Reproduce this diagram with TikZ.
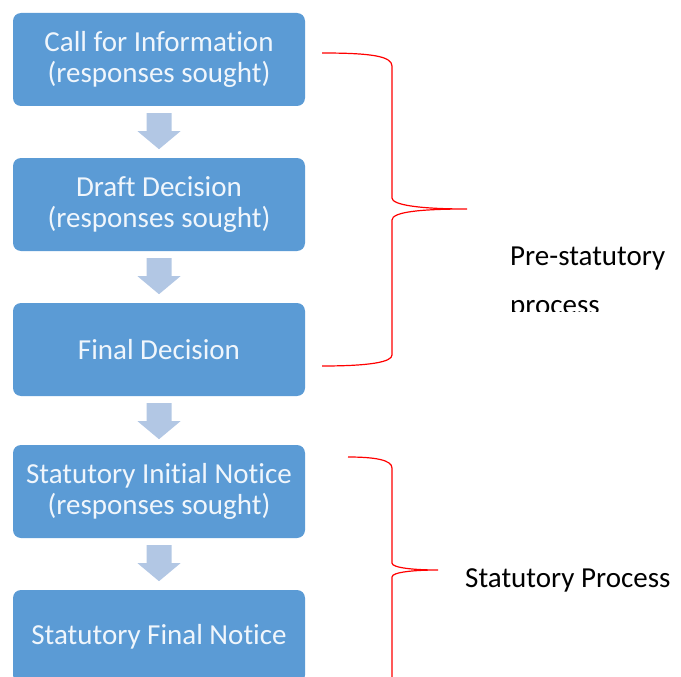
\documentclass[tikz,border=0pt]{standalone}
\usepackage{fontspec}
\setmainfont{Carlito}[Ligatures=NoCommon]
\usetikzlibrary{calc}
\definecolor{boxblue}{RGB}{91,155,213}
\definecolor{arrowblue}{RGB}{178,199,228}
\definecolor{textwhite}{RGB}{240,246,252}
\tikzset{
  stepbox/.style={fill=boxblue, rounded corners=8pt, minimum width=292pt, minimum height=93pt,
    inner sep=0pt, text=textwhite, font=\fontsize{29}{31}\selectfont, align=center},
  flowarrow/.style={fill=arrowblue},
  bracket/.style={draw=red, line width=1.2pt},
  sidelabel/.style={font=\fontsize{29}{34}\selectfont, text=black, anchor=base west, inner sep=0pt},
  downarrow/.pic={\fill[flowarrow] (-12.5,7) -- (12.5,7) -- (12.5,25) -- (21.5,25) -- (0,43)
      -- (-21.5,25) -- (-12.5,25) -- cycle;}
}
\begin{document}
\begin{tikzpicture}[x=1pt,y=-1pt]
\useasboundingbox (0,0) rectangle (681,677);
\clip (0,0) rectangle (681,677);
\node[stepbox] (b1) at (159,59.5) {Call for Information\\(responses sought)};
\node[stepbox] (b2) at (159,204.5) {Draft Decision\\(responses sought)};
\node[stepbox] (b3) at (159,349.5) {Final Decision};
\node[stepbox] (b4) at (159,491.5) {Statutory Initial Notice\\(responses sought)};
\node[stepbox] (b5) at (159,636.5) {Statutory Final Notice};
\pic at (b1.south) {downarrow};
\pic at (b2.south) {downarrow};
\pic at (b3.south) {downarrow};
\pic at (b4.south) {downarrow};
% braces
\draw[bracket] (322,53) .. controls (370,53) and (392,56) .. (392,66) -- (392,198)
  .. controls (392,205) and (420,209) .. (467,209)
  .. controls (420,209) and (392,212) .. (392,220) -- (392,355)
  .. controls (392,362) and (370,366) .. (322,366);
\draw[bracket] (348,457) .. controls (375,457) and (392,460) .. (392,468) -- (392,563)
  .. controls (392,568) and (415,570) .. (438,570)
  .. controls (415,570) and (392,572) .. (392,577) -- (392,690);
\node[sidelabel] (pre1) at (510,265) {Pre-statutory};
\begin{scope}
\clip (0,0) rectangle (681,311);
\node[sidelabel] (pre2) at (510,314) {process};
\end{scope}
\node[sidelabel] (stat) at (465,587) {Statutory Process};
\end{tikzpicture}
\end{document}
